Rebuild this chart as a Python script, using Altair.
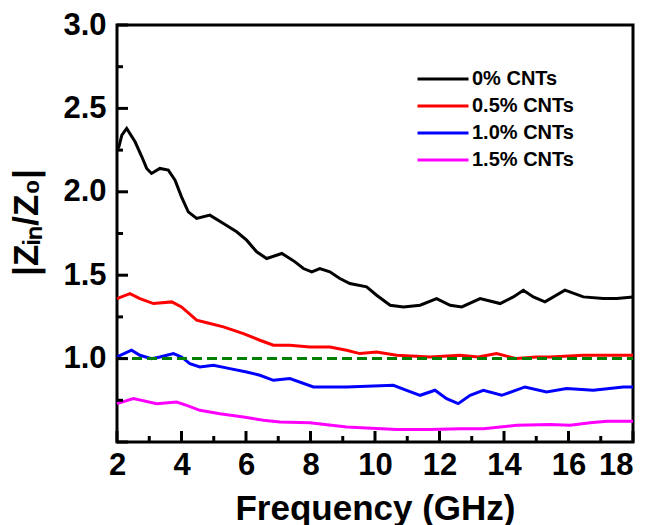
import altair as alt
import pandas as pd

# ---------------- data ----------------
series_names = ["0% CNTs", "0.5% CNTs", "1.0% CNTs", "1.5% CNTs"]
series_colors = ["#000000", "#ff0000", "#0000ff", "#ff00ff"]

freq_0 = [2.0, 2.06, 2.15, 2.3, 2.56, 2.77, 2.92, 3.07, 3.33, 3.59, 3.8, 4.0, 4.21, 4.47,
          4.88, 5.3, 5.71, 6.02, 6.33, 6.64, 7.11, 7.36, 7.52, 7.78, 8.04, 8.29, 8.6, 8.91,
          9.22, 9.74, 10.05, 10.47, 10.88, 11.4, 11.91, 12.33, 12.69, 13.26, 13.88, 14.29,
          14.6, 14.91, 15.27, 15.89, 16.46, 17.08, 17.5, 18.0]
zin_0 = [2.25, 2.27, 2.34, 2.38, 2.30, 2.21, 2.14, 2.11, 2.14, 2.13, 2.07, 1.97, 1.88, 1.84,
         1.86, 1.81, 1.76, 1.71, 1.64, 1.60, 1.63, 1.60, 1.58, 1.54, 1.52, 1.54, 1.52, 1.48,
         1.45, 1.43, 1.38, 1.32, 1.31, 1.32, 1.36, 1.32, 1.31, 1.36, 1.33, 1.37,
         1.41, 1.37, 1.34, 1.41, 1.37, 1.36, 1.36, 1.37]

freq_05 = [2.0, 2.4, 2.71, 3.13, 3.7, 4.0, 4.47, 4.88, 5.3, 5.92, 6.43, 6.85, 7.36, 7.98,
           8.6, 9.12, 9.53, 10.05, 10.67, 11.71, 12.64, 13.2, 13.77, 14.39, 15.0, 15.43,
           16.46, 17.2, 18.0]
zin_05 = [1.36, 1.39, 1.36, 1.33, 1.34, 1.31, 1.23, 1.21, 1.19, 1.15, 1.11, 1.08, 1.08, 1.07,
          1.07, 1.05, 1.03, 1.04, 1.02, 1.01, 1.02, 1.01, 1.03, 1.00, 1.01, 1.01,
          1.02, 1.02, 1.02]

freq_10 = [2.0, 2.45, 2.71, 3.07, 3.33, 3.75, 4.0, 4.26, 4.57, 4.99, 5.5, 6.02, 6.43, 6.85,
           7.36, 8.09, 9.12, 10.57, 10.98, 11.4, 11.86, 12.22, 12.58, 12.95, 13.36, 13.93,
           14.65, 15.32, 15.94, 16.77, 17.7, 18.0]
zin_10 = [1.01, 1.05, 1.02, 1.00, 1.01, 1.03, 1.01, 0.97, 0.95, 0.96, 0.94, 0.92, 0.90, 0.87,
          0.88, 0.83, 0.83, 0.84, 0.81, 0.78, 0.81, 0.76, 0.73, 0.78, 0.81, 0.78,
          0.83, 0.80, 0.82, 0.81, 0.83, 0.83]

freq_15 = [2.0, 2.51, 3.23, 3.85, 4.16, 4.57, 5.19, 5.92, 6.54, 7.05, 7.98, 9.12, 10.67,
           11.71, 12.64, 13.36, 14.39, 15.43, 16.05, 16.67, 17.2, 17.7, 18.0]
zin_15 = [0.73, 0.76, 0.73, 0.74, 0.72, 0.69, 0.67, 0.65, 0.63, 0.62, 0.615, 0.59, 0.575,
          0.575, 0.58, 0.58, 0.60, 0.605, 0.60, 0.615, 0.625, 0.625, 0.625]

ref_freq = [2.0, 18.0]
ref_value = [1.0, 1.0]

x_major = [2, 4, 6, 8, 10, 12, 14, 16, 18]
x_minor = [3, 5, 7, 9, 11, 13, 15, 17]
y_major = [0.5, 1.0, 1.5, 2.0, 2.5, 3.0]
y_minor = [0.75, 1.25, 1.75, 2.25, 2.75]

# ---------------- tables ----------------
rows = []
for name, fs, vs in zip(series_names,
                        [freq_0, freq_05, freq_10, freq_15],
                        [zin_0, zin_05, zin_10, zin_15]):
    for f, v in zip(fs, vs):
        rows.append({"series": name, "freq": f, "value": v})
df = pd.DataFrame(rows)
ref_df = pd.DataFrame({"freq": ref_freq, "value": ref_value})

tick_rows = []
for v in x_major:
    tick_rows.append({"axis": "x", "kind": "major", "pos": float(v)})
for v in x_minor:
    tick_rows.append({"axis": "x", "kind": "minor", "pos": float(v)})
for v in y_major:
    tick_rows.append({"axis": "y", "kind": "major", "pos": float(v)})
for v in y_minor:
    tick_rows.append({"axis": "y", "kind": "minor", "pos": float(v)})
ticks_df = pd.DataFrame(tick_rows)

FONT = "Liberation Sans"
W, H = 516, 417
MAJ, MIN = 11, 6
x_scale = alt.Scale(domain=[2, 18], nice=False, zero=False)
y_scale = alt.Scale(domain=[0.5, 3.0], nice=False, zero=False)

lines = alt.Chart(df).mark_line(strokeWidth=3).encode(
    x=alt.X("freq:Q", scale=x_scale,
            axis=alt.Axis(orient="bottom", values=x_major, format="d",
                          title="Frequency (GHz)", labelPadding=8, titlePadding=11,
                          labelFlush=False,
                          labelAlign={"condition": {"test": "datum.value == 18", "value": "right"},
                                      "value": "center"})),
    y=alt.Y("value:Q", scale=y_scale,
            axis=alt.Axis(orient="left", values=y_major,
                          labelExpr="datum.value < 0.75 ? '' : format(datum.value, '.1f')",
                          title="|Zᵢₙ/Z₀|", labelPadding=11, titlePadding=18,
                          labelFlush=False, titleY=197)),
    color=alt.Color("series:N",
                    scale=alt.Scale(domain=series_names, range=series_colors),
                    legend=alt.Legend(orient="none", legendX=299, legendY=44, title=None,
                                      symbolType="stroke", symbolSize=2601,
                                      symbolStrokeWidth=3, clipHeight=20, rowPadding=7,
                                      labelFont=FONT, labelFontSize=20,
                                      labelFontWeight="bold", labelColor="black",
                                      labelOffset=2, padding=0)),
)

ref = alt.Chart(ref_df).mark_line(color="#008000", strokeWidth=3, strokeDash=[10, 5]).encode(
    x=alt.X("freq:Q", scale=x_scale),
    y=alt.Y("value:Q", scale=y_scale),
)

tick_base = alt.Chart(ticks_df)


def x_ticks(kind, length):
    return tick_base.transform_filter(
        f"datum.axis == 'x' && datum.kind == '{kind}'"
    ).mark_rule(color="black", strokeWidth=3).encode(
        x=alt.X("pos:Q", scale=x_scale), y=alt.value(H), y2=alt.value(H - length))


def y_ticks(kind, length):
    return tick_base.transform_filter(
        f"datum.axis == 'y' && datum.kind == '{kind}'"
    ).mark_rule(color="black", strokeWidth=3).encode(
        y=alt.Y("pos:Q", scale=y_scale), x=alt.value(0), x2=alt.value(length))


chart = alt.layer(
    lines, ref,
    x_ticks("major", MAJ), x_ticks("minor", MIN),
    y_ticks("major", MAJ), y_ticks("minor", MIN),
).properties(
    width=W, height=H,
    autosize=alt.AutoSizeParams(type="none"),
    padding={"left": 117, "top": 25, "right": 21, "bottom": 83},
    background="white",
).configure_view(
    stroke="black", strokeWidth=3
).configure_axis(
    grid=False, domain=False, ticks=False, tickSize=0,
    labelFont=FONT, labelFontSize=31, labelFontWeight="bold", labelColor="black",
    titleFont=FONT, titleFontSize=35, titleFontWeight="bold", titleColor="black",
)

chart.save("out.html", embed_options={"renderer": "svg", "actions": False})
